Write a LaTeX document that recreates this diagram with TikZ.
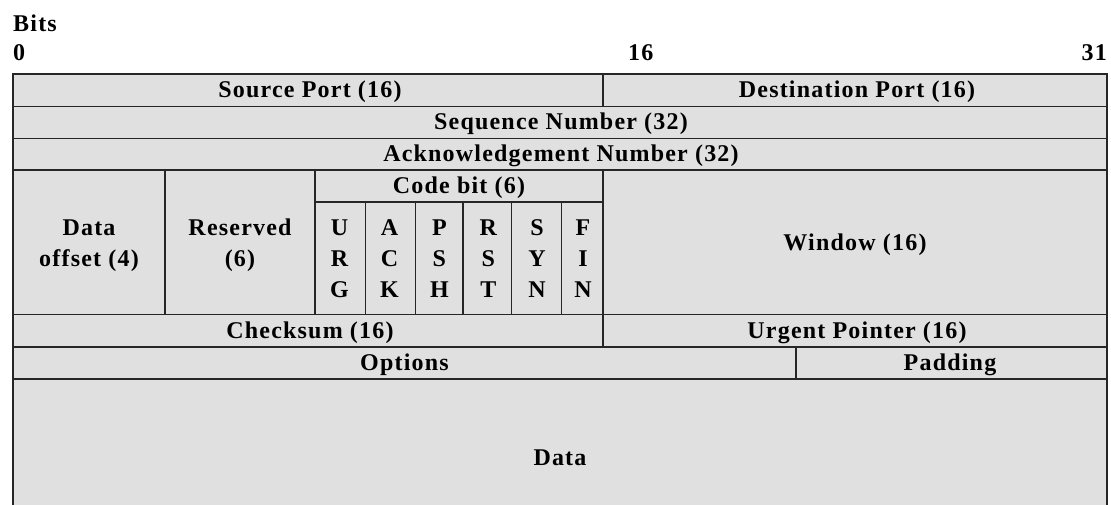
\documentclass[tikz,border=0pt]{standalone}
\usepackage{fontspec}
\setmainfont{Liberation Serif}[LetterSpace=5]
\definecolor{cellfill}{HTML}{E0E0E0}
\definecolor{linec}{HTML}{262626}
\begin{document}
\begin{tikzpicture}[x=1pt,y=-1pt,
  rule/.style={draw=linec, line width=1.5pt},
  frame/.style={draw=linec, line width=2pt},
  lbl/.style={anchor=base, inner sep=0pt, font=\fontsize{24}{31}\selectfont\bfseries},
  stack/.style={lbl}]
\useasboundingbox (0,0) rectangle (1111,504);
\fill[white] (0,0) rectangle (1111,504);

% header: bit positions
\node[lbl, anchor=base west] (bits) at (13,31.5) {Bits};
\node[lbl, anchor=base west] (b0) at (13,60) {0};
\node[lbl, anchor=base west] (b16) at (628,60) {16};
\node[lbl, anchor=base east] (b31) at (1107,60) {31};

% header body background
\fill[cellfill] (13,74) rectangle (1107,510);

% horizontal rules
\draw[rule] (13,74) -- (1107,74);
\draw[rule] (13,106.5) -- (1107,106.5);
\draw[rule] (13,138.5) -- (1107,138.5);
\draw[rule] (13,170) -- (1107,170);
\draw[rule] (315,202) -- (603,202);
\draw[rule] (13,314.5) -- (1107,314.5);
\draw[rule] (13,347) -- (1107,347);
\draw[rule] (13,379) -- (1107,379);

% vertical rules
\draw[rule] (603,74) -- (603,106.5);
\draw[rule] (603,170) -- (603,347);
\draw[rule] (165,170) -- (165,314.5);
\draw[rule] (315,170) -- (315,314.5);
\foreach \x in {365.7,415.7,463,511.7,561.7}
  \draw[rule] (\x,202) -- (\x,314.5);
\draw[rule] (796,347) -- (796,379);

% outer frame sides
\draw[frame] (13,73) -- (13,510);
\draw[frame] (1107,73) -- (1107,510);

% field labels
\node[lbl] (srcport) at (310,97) {Source Port (16)};
\node[lbl] (dstport) at (857,97) {Destination Port (16)};
\node[lbl] (seq) at (561,129.5) {Sequence Number (32)};
\node[lbl] (ack) at (561,161) {Acknowledgement Number (32)};
\node[stack] (offset) at (89,235) {\begin{tabular}[t]{@{}c@{}}Data\\offset (4)\end{tabular}};
\node[stack] (reserved) at (240,235) {\begin{tabular}[t]{@{}c@{}}Reserved\\(6)\end{tabular}};
\node[lbl] (codebit) at (459,193) {Code bit (6)};
\node[stack] (urg) at (339.5,235) {\begin{tabular}[t]{@{}c@{}}U\\R\\G\end{tabular}};
\node[stack] (ackf) at (389.5,235) {\begin{tabular}[t]{@{}c@{}}A\\C\\K\end{tabular}};
\node[stack] (psh) at (439.4,235) {\begin{tabular}[t]{@{}c@{}}P\\S\\H\end{tabular}};
\node[stack] (rst) at (488.4,235) {\begin{tabular}[t]{@{}c@{}}R\\S\\T\end{tabular}};
\node[stack] (syn) at (537,235) {\begin{tabular}[t]{@{}c@{}}S\\Y\\N\end{tabular}};
\node[stack] (fin) at (583,235) {\begin{tabular}[t]{@{}c@{}}F\\I\\N\end{tabular}};
\node[lbl] (window) at (855,250) {Window (16)};
\node[lbl] (checksum) at (310,338) {Checksum (16)};
\node[lbl] (urgent) at (857,338) {Urgent Pointer (16)};
\node[lbl] (options) at (404.5,370) {Options};
\node[lbl] (padding) at (950,370) {Padding};
\node[lbl] (data) at (560,465) {Data};
\end{tikzpicture}
\end{document}
